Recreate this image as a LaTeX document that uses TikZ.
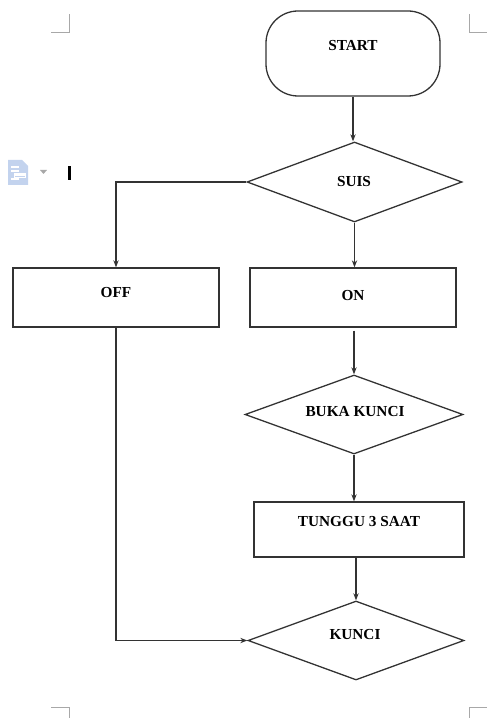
\documentclass[tikz,border=0pt]{standalone}
\usepackage{fontspec}
\setmainfont{Liberation Serif}
\usetikzlibrary{shapes.geometric,arrows.meta,calc}
\def\pu{0.85pt}
\definecolor{edge}{HTML}{333333}
\definecolor{markgray}{HTML}{A8A8A8}
\definecolor{docblue}{HTML}{C3D3EE}
\tikzset{
  box/.style={draw=edge, line width=1.1pt, rectangle, inner sep=0pt},
  term/.style={box, rounded corners=32*\pu},
  choice/.style={draw=edge, line width=1.1pt, diamond, inner sep=0pt, aspect=2.7},
  lbl/.style={font=\bfseries\fontsize{13}{15}\selectfont, inner sep=0pt},
  flow/.style={draw=edge, line width=1pt, -{Stealth[length=6pt,width=4.5pt]}},
  cropmark/.style={draw=markgray, line width=0.8pt}
}
\begin{document}
\begin{tikzpicture}[x=\pu, y=-\pu]
\useasboundingbox (0,0) rectangle (487,718);

% shapes
\node[term, minimum width=174*\pu, minimum height=85*\pu] (start) at (353,53.5) {};
\node[choice, minimum width=215*\pu, minimum height=80*\pu] (suis) at (354.5,182) {};
\node[box, minimum width=206*\pu, minimum height=59*\pu] (off) at (116,297.5) {};
\node[box, minimum width=206*\pu, minimum height=59*\pu] (on) at (353,297.5) {};
\node[choice, minimum width=218*\pu, minimum height=79*\pu] (buka) at (354,414.5) {};
\node[box, minimum width=210*\pu, minimum height=55*\pu] (tunggu) at (359,529.5) {};
\node[choice, minimum width=216*\pu, minimum height=79*\pu] (kunci) at (356,640.5) {};

% labels
\node[lbl] (start-t) at (353,46) {START};
\node[lbl] (suis-t) at (354,182) {SUIS};
\node[lbl] (off-t) at (116,293) {OFF};
\node[lbl] (on-t) at (353,296) {ON};
\node[lbl] (buka-t) at (355,412) {BUKA KUNCI};
\node[lbl] (tunggu-t) at (359,522) {TUNGGU 3 SAAT};
\node[lbl] (kunci-t) at (355,635) {KUNCI};

% connectors
\draw[flow] (start.south) -- (start.south |- suis.north);
\draw[flow] (suis.west) -| (off.north);
\draw[flow] (suis.south) -- (suis.south |- on.north);
\draw[flow] ($(on.south -| buka.north)+(0,3)$) -- (buka.north);
\draw[flow] (buka.south) -- (buka.south |- tunggu.north);
\draw[flow] (tunggu.south -| kunci.north) -- (kunci.north);
\draw[flow] (off.south) |- (kunci.west);

% page corner marks
\draw[cropmark] (51,32) -- (69,32) -- (69,14);
\draw[cropmark] (469,14) -- (469,32) -- (487,32);
\draw[cropmark] (51,707) -- (69,707) -- (69,718);
\draw[cropmark] (469,718) -- (469,707) -- (487,707);

% paste-options icon and text cursor
\fill[docblue] (8,160) -- (22,160) -- (28,166) -- (28,185) -- (8,185) -- cycle;
\draw[white, line width=1pt] (11,167) -- (19,167) (11,171) -- (19,171) (14,175) -- (25,175) (11,179) -- (19,179);
\draw[white, line width=0.8pt] (14,173) rectangle (25,177);
\fill[markgray] (40,170) -- (47,170) -- (43.5,174) -- cycle;
\fill[black] (68,166) rectangle (71,180);
\end{tikzpicture}
\end{document}
